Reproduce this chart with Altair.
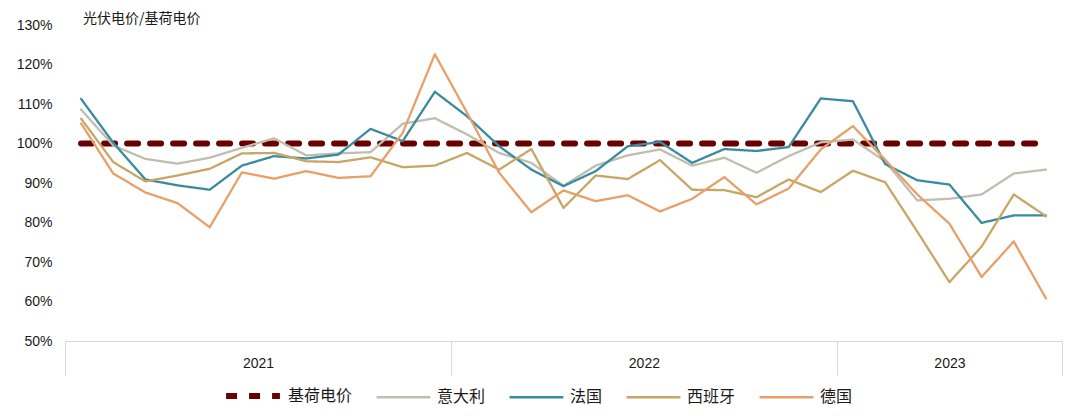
import altair as alt
import pandas as pd

series_names = ["基荷电价", "意大利", "法国", "西班牙", "德国"]
series_colors = ["#6B0000", "#BFBFB0", "#3A8BA0", "#C8A664", "#E8A06A"]

months = list(range(31))
baseload = [100.0] * 31
italy = [108.6, 99.5, 96.1, 94.9, 96.4, 98.9, 101.3, 97.0, 97.5, 97.8, 105.0, 106.4, 102.3, 97.6, 95.1, 89.3,
         94.4, 97.0, 98.5, 94.4, 96.4, 92.6, 96.8, 100.3, 101.0, 95.5, 85.6, 86.0, 87.1, 92.4, 93.4]
france = [111.3, 100.2, 90.9, 89.4, 88.3, 94.4, 96.8, 96.2, 97.2, 103.7, 100.6, 113.1, 106.9, 99.3, 93.4, 89.2,
          93.0, 99.3, 100.4, 95.1, 98.6, 98.1, 99.1, 111.4, 110.7, 94.8, 90.7, 89.6, 79.9, 81.8, 81.8]
spain = [106.3, 95.3, 90.4, 91.9, 93.6, 97.5, 97.6, 95.5, 95.3, 96.5, 94.0, 94.4, 97.6, 93.4, 98.6, 83.7,
         91.9, 91.0, 95.8, 88.3, 88.2, 86.4, 90.9, 87.7, 93.1, 90.2, 77.7, 64.9, 73.9, 87.1, 81.6]
germany = [105.1, 92.4, 87.6, 84.9, 78.8, 92.7, 91.1, 93.0, 91.3, 91.7, 102.7, 122.6, 107.8, 92.6, 82.6, 88.1,
           85.4, 86.9, 82.8, 86.0, 91.5, 84.6, 88.6, 98.5, 104.4, 95.9, 87.1, 79.7, 66.2, 75.2, 60.8]

years = ["2021", "2022", "2023"]
months_per_year = [12, 12, 7]
y_ticks = [50, 60, 70, 80, 90, 100, 110, 120, 130]

all_values = [baseload, italy, france, spain, germany]
rows = []
for name, vals in zip(series_names, all_values):
    for m, v in zip(months, vals):
        rows.append({"series": name, "month": m, "value": v})
df = pd.DataFrame(rows)

# group boundaries and centres for the year axis
bounds = [-0.5]
centres = []
start = -0.5
for n in months_per_year:
    centres.append(start + n / 2)
    start += n
    bounds.append(start)
tick_vals = sorted(bounds + centres)
label_expr = " : ".join(
    [f"datum.value == {c} ? '{y}'" for c, y in zip(centres, years)]
) + " : ''"
bound_list = ",".join(str(b) for b in bounds)

font = "Liberation Sans, Arial, Noto Sans CJK SC"
cjk = "Noto Sans CJK SC, Liberation Sans"

legend_cfg = dict(title=None, orient="none", direction="horizontal",
                  legendX=158, legendY=341, symbolType="stroke",
                  symbolSize=2900, labelFontSize=16,
                  labelFont=cjk, labelColor="#1a1a1a", columnPadding=18,
                  labelOffset=5, padding=0)

chart = alt.Chart(df).mark_line(strokeCap="round", strokeJoin="round").encode(
    x=alt.X("month:Q",
            scale=alt.Scale(domain=[bounds[0], bounds[-1]], nice=False, zero=False),
            axis=alt.Axis(values=tick_vals, labelExpr=label_expr, title=None, grid=False,
                          tickSize=34,
                          tickColor={"condition": {"test": f"indexof([{bound_list}], datum.value) >= 0",
                                                   "value": "#d9d9d9"},
                                     "value": "transparent"},
                          domainColor="#d9d9d9", labelPadding=-19, labelFontSize=14,
                          labelColor="#1a1a1a", labelFont=font, labelFlush=False)),
    y=alt.Y("value:Q",
            scale=alt.Scale(domain=[50, 130], nice=False, zero=False),
            axis=alt.Axis(values=y_ticks, labelExpr="datum.value + '%'", title=None, grid=False,
                          domain=False, ticks=False, labelPadding=13, labelFontSize=14,
                          labelColor="#1a1a1a", labelFont=font)),
    color=alt.Color("series:N", scale=alt.Scale(domain=series_names, range=series_colors),
                    legend=alt.Legend(**legend_cfg)),
    strokeDash=alt.StrokeDash("series:N",
                              scale=alt.Scale(domain=series_names,
                                              range=[[11, 12], [1, 0], [1, 0], [1, 0], [1, 0]]),
                              legend=alt.Legend(**legend_cfg)),
    strokeWidth=alt.StrokeWidth("series:N",
                                scale=alt.Scale(type="ordinal", domain=series_names,
                                                range=[6, 2.3, 2.3, 2.3, 2.3]),
                                legend=alt.Legend(**legend_cfg)),
    order=alt.Order("month:Q"),
).properties(
    width=997, height=316,
    autosize=alt.AutoSizeParams(type="none"),
    padding={"left": 57, "top": 17, "right": 2, "bottom": 67},
    title=alt.TitleParams("光伏电价/基荷电价", anchor="start", frame="group", dx=18, offset=-8,
                          fontSize=14, fontWeight="normal", font=cjk, color="#1a1a1a"),
).configure_view(stroke="transparent")

chart.save("out.html", embed_options={"renderer": "svg", "actions": False})
